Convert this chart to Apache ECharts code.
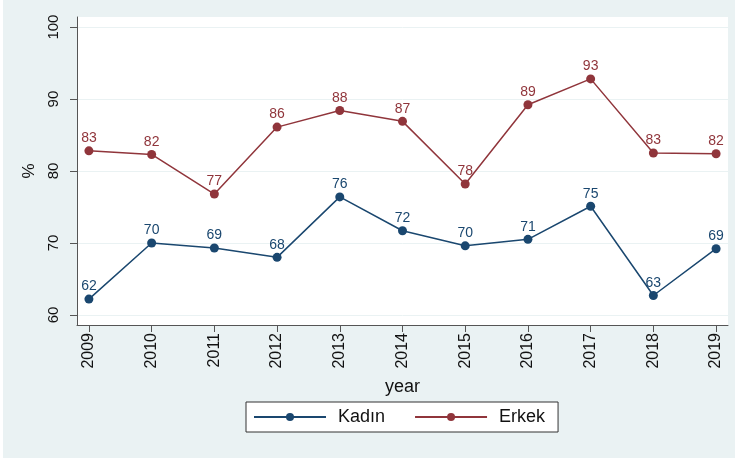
<!DOCTYPE html>
<html>
<head>
<meta charset="utf-8">
<script src="https://cdn.jsdelivr.net/npm/echarts@6/dist/echarts.min.js"></script>
<style>
  html, body { margin: 0; padding: 0; background: #fff; }
  #chart { position: absolute; left: 3px; top: 0; width: 732px; height: 458px; }
</style>
</head>
<body>
<div id="chart"></div>
<script>
const years = [2009, 2010, 2011, 2012, 2013, 2014, 2015, 2016, 2017, 2018, 2019];
const kadin = [62.2, 70.0, 69.3, 68.0, 76.4, 71.7, 69.6, 70.5, 75.1, 62.7, 69.2];
const erkek = [82.8, 82.3, 76.8, 86.1, 88.4, 86.9, 78.2, 89.2, 92.8, 82.5, 82.4];
const yTicks = [60, 70, 80, 90, 100];

const navy = "#1a476f";
const maroon = "#90353b";
const font = "Liberation Sans, Arial, sans-serif";

function pairs(values) {
  return years.map((y, i) => [y, values[i]]);
}

function lineSeries(name, values, color) {
  return {
    name: name,
    type: "line",
    data: pairs(values),
    symbol: "circle",
    symbolSize: 9,
    color: color,
    lineStyle: { width: 1.5, color: color },
    itemStyle: { color: color },
    label: {
      show: true,
      position: "top",
      distance: 1,
      color: color,
      fontSize: 14,
      fontFamily: font,
      formatter: (p) => Math.round(p.value[1]),
    },
    emphasis: { disabled: true },
  };
}

const chart = echarts.init(document.getElementById("chart"));
chart.setOption({
  backgroundColor: "#eaf2f3",
  animation: false,
  grid: {
    left: 74,
    right: 7,
    top: 17,
    bottom: 133,
    show: true,
    backgroundColor: "#fff",
    borderWidth: 0,
    outerBoundsMode: "none",
  },
  xAxis: {
    type: "value",
    min: 2008.81,
    max: 2019.19,
    name: "year",
    nameLocation: "middle",
    nameGap: 53,
    nameTextStyle: { fontSize: 18, color: "#111", fontFamily: font },
    axisLine: { show: true, lineStyle: { color: "#555", width: 1 } },
    axisTick: { show: true, length: 7, customValues: years, lineStyle: { color: "#555" } },
    axisLabel: {
      customValues: years,
      rotate: 90,
      margin: 8,
      fontSize: 16,
      color: "#111",
      fontFamily: font,
      formatter: (v) => String(v),
    },
    splitLine: { show: false },
  },
  yAxis: {
    type: "value",
    min: 58.6,
    max: 101.4,
    name: "%",
    nameLocation: "middle",
    nameGap: 38,
    nameRotate: 90,
    nameTextStyle: { fontSize: 17, color: "#111", fontFamily: font },
    axisLine: { show: true, lineStyle: { color: "#555", width: 1 } },
    axisTick: { show: true, length: 7, customValues: yTicks, lineStyle: { color: "#555" } },
    axisLabel: {
      customValues: yTicks,
      rotate: 90,
      margin: 16,
      fontSize: 15,
      color: "#111",
      fontFamily: font,
    },
    splitLine: { show: true, lineStyle: { color: "#eaf2f3", width: 1 } },
  },
  legend: {
    left: 243,
    top: 402,
    itemWidth: 72,
    itemHeight: 10,
    itemGap: 29,
    padding: [6, 13, 6, 7],
    backgroundColor: "#fff",
    borderColor: "#333",
    borderWidth: 1,
    borderRadius: 0,
    selectedMode: false,
    textStyle: { fontSize: 18, color: "#111", fontFamily: font, padding: [0, 0, 0, 7] },
    data: ["Kadın", "Erkek"],
  },
  series: [
    lineSeries("Kadın", kadin, navy),
    lineSeries("Erkek", erkek, maroon),
  ],
});
</script>
</body>
</html>
